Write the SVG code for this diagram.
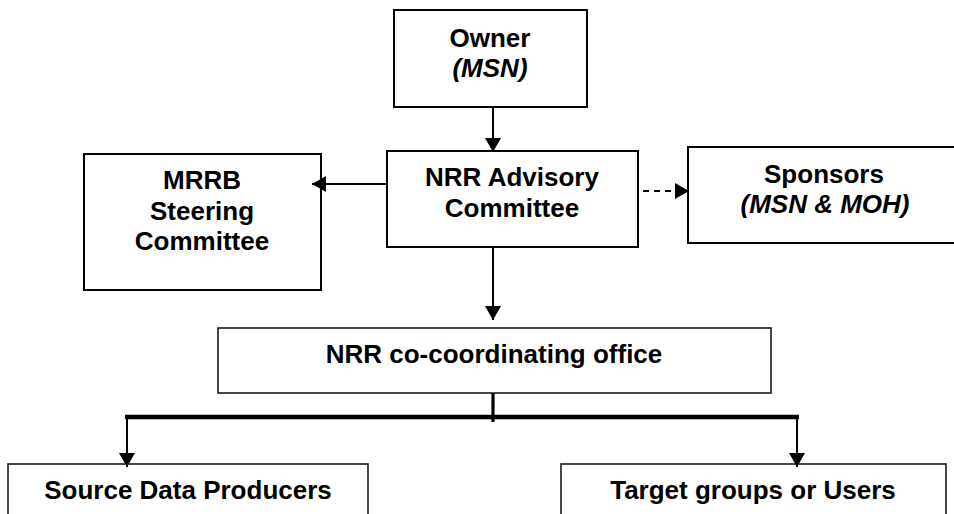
<svg xmlns="http://www.w3.org/2000/svg" width="954" height="514" viewBox="0 0 954 514">
<style>
.box{fill:#fff;stroke:#000;stroke-width:2}
.box2{fill:#fff;stroke:#1a1a1a;stroke-width:1.6}
.t{font-family:"Liberation Sans",Arial,sans-serif;font-weight:bold;font-size:26px;fill:#000;text-anchor:middle}
.i{font-style:italic}
.c{stroke:#000;stroke-width:2;fill:none}
</style>
<defs>
<marker id="ah" markerUnits="userSpaceOnUse" markerWidth="14" markerHeight="16" viewBox="0 0 14 16" refX="14" refY="8" orient="auto">
<path d="M0,0 L14,8 L0,16 z" fill="#000"/>
</marker>
</defs>
<rect width="954" height="514" fill="#fff"/>
<g id="owner">
<rect class="box" x="394" y="10" width="193" height="97"/>
<text class="t" x="490" y="47">Owner</text>
<text class="t i" x="490" y="77">(MSN)</text>
</g>
<g id="advisory">
<rect class="box" x="387" y="151" width="251" height="96"/>
<text class="t" x="512" y="186">NRR Advisory</text>
<text class="t" x="512" y="217">Committee</text>
</g>
<g id="mrrb">
<rect class="box" x="84" y="154" width="237" height="136"/>
<text class="t" x="202" y="189">MRRB</text>
<text class="t" x="202" y="220">Steering</text>
<text class="t" x="202" y="250">Committee</text>
</g>
<g id="sponsors">
<rect class="box" x="688" y="147" width="272" height="96"/>
<text class="t" x="824" y="183">Sponsors</text>
<text class="t i" x="825" y="213">(MSN &amp; MOH)</text>
</g>
<g id="office">
<rect class="box2" x="218" y="328" width="553" height="65"/>
<text class="t" x="494" y="363">NRR co-coordinating office</text>
</g>
<g id="source">
<rect class="box2" x="8" y="464" width="360" height="60"/>
<text class="t" x="188" y="499">Source Data Producers</text>
</g>
<g id="target">
<rect class="box2" x="561" y="464" width="385" height="60"/>
<text class="t" x="753" y="499">Target groups or Users</text>
</g>
<g id="connectors">
<line class="c" x1="493" y1="107" x2="493" y2="152" marker-end="url(#ah)"/>
<line class="c" x1="387" y1="184" x2="312" y2="184" marker-end="url(#ah)"/>
<line class="c" x1="643" y1="191" x2="689" y2="191" stroke-dasharray="6,5" marker-end="url(#ah)"/>
<line class="c" x1="493" y1="247" x2="493" y2="320" marker-end="url(#ah)"/>
<line x1="493" y1="393" x2="493" y2="422" stroke="#000" stroke-width="3.2"/>
<line x1="125" y1="417" x2="799" y2="417" stroke="#000" stroke-width="4.5"/>
<line class="c" x1="127" y1="417" x2="127" y2="467" marker-end="url(#ah)"/>
<line class="c" x1="797" y1="417" x2="797" y2="467" marker-end="url(#ah)"/>
</g>
</svg>
